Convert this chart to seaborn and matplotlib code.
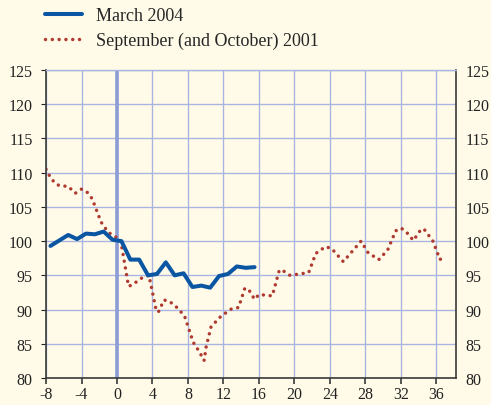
import numpy as np
import pandas as pd
import matplotlib.pyplot as plt
import seaborn as sns

# March 2004 (blue solid)
march_x = [-7.5, -6.5, -5.5, -4.5, -3.5, -2.5, -1.5, -0.5, 0.5, 1.5, 2.5, 3.5,
           4.5, 5.5, 6.5, 7.5, 8.5, 9.5, 10.5, 11.5, 12.5, 13.5, 14.5, 15.5]
march_y = [99.3, 100.1, 100.9, 100.3, 101.1, 101.0, 101.4, 100.2, 100.0, 97.3, 97.3, 95.0,
           95.2, 96.9, 95.0, 95.3, 93.3, 93.5, 93.2, 94.9, 95.2, 96.3, 96.1, 96.2]

# September (and October) 2001 (red dotted)
sept_x = [-8.0, -7.5, -7.0, -6.5, -5.5, -4.7, -4.0, -3.4, -2.8, -2.3, -1.8, -1.0,
          0.0, 0.4, 1.3, 1.7, 3.0, 3.6, 4.4, 4.65, 5.3, 5.9, 6.6, 7.6,
          8.6, 9.4, 9.7, 9.85, 10.0, 10.6, 11.7, 12.9, 13.7, 14.4, 14.8, 15.5,
          16.0, 17.5, 18.3, 18.8, 19.5, 21.6, 22.4, 23.5, 24.2, 25.5, 27.5, 28.3,
          29.5, 30.5, 31.4, 32.0, 32.5, 33.4, 34.3, 34.7, 35.6, 36.4, 36.9]
sept_y = [110.5, 109.3, 108.5, 108.1, 108.0, 107.0, 107.6, 107.2, 106.2, 104.5, 102.8, 101.3,
          100.5, 100.2, 93.4, 93.6, 94.8, 95.0, 90.0, 89.6, 91.4, 91.2, 90.5, 89.1,
          85.2, 83.6, 82.6, 82.6, 84.3, 87.5, 89.0, 90.1, 90.3, 93.1, 93.0, 91.5,
          92.2, 92.0, 95.8, 95.6, 95.0, 95.4, 98.2, 99.2, 98.9, 97.0, 100.0, 98.3,
          97.3, 98.7, 101.5, 101.9, 101.5, 100.1, 101.8, 101.6, 100.0, 97.3, 98.0]

x_ticks = list(range(-8, 40, 4))
y_ticks = list(range(80, 130, 5))

bg = "#fffbe8"
grid_col = "#a9b5e0"
spine_col = "#3a3a3a"

sns.set_style("white")
plt.rcParams["font.family"] = ["Liberation Serif", "DejaVu Serif"]
plt.rcParams["axes.unicode_minus"] = False

fig = plt.figure(figsize=(4.91, 4.06), dpi=100, facecolor=bg)
ax = fig.add_axes([0.0937, 0.0665, 0.835, 0.7585])
ax.set_facecolor(bg)

march = pd.DataFrame({"x": march_x, "y": march_y})
sept = pd.DataFrame({"x": sept_x, "y": sept_y})

ax.axvline(0, color="#8c9dd6", lw=2.6, zorder=1)
sns.lineplot(data=march, x="x", y="y", ax=ax, color="#0b56a3", lw=2.9,
             sort=False, estimator=None, label="March 2004", zorder=3)
sns.lineplot(data=sept, x="x", y="y", ax=ax, color="#b03a30", lw=2.5,
             linestyle=(0, (0.01, 1.95)), dash_capstyle="round",
             sort=False, estimator=None, label="September (and October) 2001", zorder=2)

ax.set_xlim(-8, 38.2)
ax.set_ylim(80, 125)
ax.set_xticks(x_ticks)
ax.set_yticks(y_ticks)
ax.grid(True, color=grid_col, lw=1.0)
ax.set_axisbelow(True)
ax.set_xlabel("")
ax.set_ylabel("")

for s in ["left", "bottom", "right"]:
    ax.spines[s].set_color(spine_col)
    ax.spines[s].set_linewidth(1.2)
ax.spines["top"].set_color(grid_col)
ax.spines["top"].set_linewidth(1.0)

ax.tick_params(axis="y", left=False, right=False, labelleft=True, labelright=False,
               labelsize=11.5, pad=6, colors="#222222")
ax.tick_params(axis="x", bottom=True, direction="out", length=4, width=1.2,
               color=spine_col, labelsize=11.5, pad=1.5, labelcolor="#222222")

# right-hand labels
ax2 = ax.twinx()
ax2.set_ylim(80, 125)
ax2.set_yticks(y_ticks)
ax2.tick_params(axis="y", right=False, labelsize=11.5, pad=3.5, colors="#222222")
for s in ax2.spines.values():
    s.set_visible(False)

handles, labels = ax.get_legend_handles_labels()
ax.get_legend().remove()
fig.legend(handles, labels, loc="upper left", bbox_to_anchor=(0.077, 0.998),
           frameon=False, fontsize=13, handlelength=2.05, handletextpad=0.8,
           labelspacing=0.42, borderaxespad=0)

fig.savefig("out.png", dpi=100, facecolor=bg)
